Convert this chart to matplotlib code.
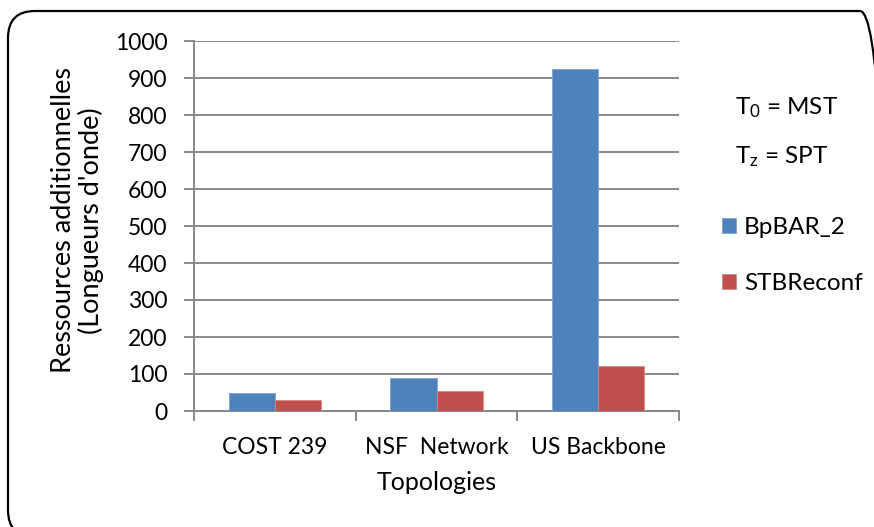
import numpy as np
import matplotlib.pyplot as plt
from matplotlib.patches import FancyBboxPatch

plt.rcParams['font.family'] = ['Lato', 'DejaVu Sans']
plt.rcParams['mathtext.fontset'] = 'custom'
plt.rcParams['mathtext.rm'] = 'Lato'
plt.rcParams['mathtext.it'] = 'Lato'

topologies = ['COST 239', 'NSF  Network', 'US Backbone']
bpbar = [48, 89, 925]
stbreconf = [29, 53, 121]
yticks = list(range(0, 1001, 100))

blue = '#4F81BD'
red = '#C0504D'
grey = '#888888'

W, H = 874, 527
fig = plt.figure(figsize=(W / 100, H / 100), dpi=100)
ax = fig.add_axes([194 / W, 1 - 411 / H, (679 - 194) / W, (411 - 41) / H])

x = np.arange(len(topologies))
w = 0.285
b1 = ax.bar(x - w / 2, bpbar, w, color=blue, edgecolor='#7fa3d0', linewidth=0.6, label='BpBAR_2', zorder=3)
b2 = ax.bar(x + w / 2, stbreconf, w, color=red, edgecolor='#d38a88', linewidth=0.6, label='STBReconf', zorder=3)

ax.set_xlim(-0.5, 2.5)
ax.set_ylim(0, 1000)
ax.set_yticks(yticks)
ax.yaxis.grid(True, color=grey, linewidth=1.4, zorder=0)
ax.set_xticks(x)
ax.set_xticklabels(topologies)
ax.set_xticks(np.arange(-0.5, 3, 1), minor=True)
ax.tick_params(axis='x', which='major', length=0, pad=19, labelsize=16.5)
ax.tick_params(axis='x', which='minor', length=7, width=1.4, color=grey)
ax.tick_params(axis='y', length=7, width=1.4, color=grey, pad=12, labelsize=16.5)
for s in ['top', 'right']:
    ax.spines[s].set_visible(False)
for s in ['left', 'bottom']:
    ax.spines[s].set_color(grey)
    ax.spines[s].set_linewidth(1.4)

ax.set_xlabel('Topologies', fontsize=18, labelpad=9)
ax.set_ylabel("Ressources additionnelles\n(Longueurs d'onde)", fontsize=19.5, linespacing=1.1)
ax.yaxis.set_label_coords(-0.185, 0.515)

fig.text(735 / W, 1 - 108 / H, r'T$_0$ = MST', fontsize=17.5, va='center', ha='left')
fig.text(735 / W, 1 - 157 / H, r'T$_z$ = SPT', fontsize=17.5, va='center', ha='left')

fig.legend(handles=[b1, b2], loc='center left', bbox_to_anchor=(700 / W, 1 - 255.5 / H),
           frameon=False, fontsize=17.5, handlelength=0.6, handleheight=0.6,
           handletextpad=0.3, labelspacing=1.45)

# rounded chart border in inches, running off the right and bottom edges
box = FancyBboxPatch((0.08, -0.10), 8.79, 5.26, boxstyle='round,pad=0,rounding_size=0.27',
                     transform=fig.dpi_scale_trans, facecolor='none', edgecolor='black',
                     linewidth=1.6, clip_on=False)
fig.add_artist(box)

fig.savefig('out.png', dpi=100, bbox_inches=None)
